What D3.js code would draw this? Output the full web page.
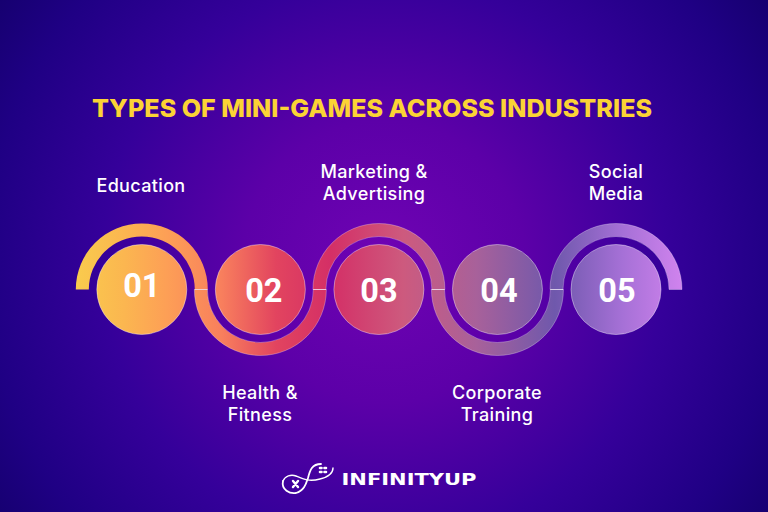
<!DOCTYPE html>
<html><head><meta charset="utf-8">
<script src="https://d3js.org/d3.v7.min.js"></script>
<style>html,body{margin:0;padding:0;background:#1a0078}svg{display:block}</style>
</head><body><svg id="c" width="768" height="512"></svg>
<script>
const chartTitle = "TYPES OF MINI-GAMES ACROSS INDUSTRIES";
const stepNumbers = ["01","02","03","04","05"];
const stepLabels = [["Education"],["Health &","Fitness"],["Marketing &","Advertising"],["Corporate","Training"],["Social","Media"]];
const brandName = "INFINITYUP";

const svg = d3.select("#c");
const defs = svg.append("defs");

const bg = defs.append("radialGradient").attr("id","bg").attr("gradientUnits","userSpaceOnUse")
  .attr("cx",384).attr("cy",262).attr("r",470);
[[0,"#7003b4"],[0.3,"#5c00a8"],[0.6,"#35009a"],[0.85,"#1f0084"],[1,"#15006f"]].forEach(s=>bg.append("stop").attr("offset",s[0]).attr("stop-color",s[1]));
svg.append("rect").attr("width",768).attr("height",512).attr("fill","url(#bg)");

const x = d3.scaleLinear().domain([0,4]).range([141.8,616]);
const cy = 289.5, R = 45, rIn = 53, rOut = 66;

const grad = defs.append("linearGradient").attr("id","rib").attr("gradientUnits","userSpaceOnUse")
  .attr("x1",76).attr("x2",682).attr("y1",0).attr("y2",0);
[[0,"#f9cb4d"],[0.08,"#fbb650"],[0.15,"#fd9f56"],[0.24,"#f87f5d"],[0.33,"#e2445f"],[0.42,"#d42f66"],[0.54,"#cd5a7e"],[0.66,"#a8619a"],[0.79,"#6f58ac"],[0.9,"#a570d6"],[1,"#d083ee"]]
  .forEach(s=>grad.append("stop").attr("offset",s[0]).attr("stop-color",s[1]));

// half-annulus in absolute coordinates so the shared gradient runs across the whole ribbon
function halfRing(cx, top){
  const p = d3.path();
  p.moveTo(cx-rOut,cy);
  p.arc(cx,cy,rOut,Math.PI,0,!top);
  p.lineTo(cx+rIn,cy);
  p.arc(cx,cy,rIn,0,Math.PI,top);
  p.closePath();
  return p.toString();
}
const g = svg.append("g");
stepNumbers.forEach((n,i)=>{
  g.append("path").attr("d",halfRing(x(i),i%2===0))
    .attr("fill","url(#rib)").attr("stroke",i===0?"none":"#ffffff").attr("stroke-opacity",0.4).attr("stroke-width",0.7);
});
d3.range(4).forEach(i=>{
  const jx = (x(i)+x(i+1))/2;
  g.append("line").attr("x1",jx-6.5).attr("x2",jx+6.5).attr("y1",cy).attr("y2",cy)
    .attr("stroke","#fff").attr("stroke-opacity",0.7).attr("stroke-width",0.8);
});

g.selectAll("circle.n").data(stepNumbers).join("circle").attr("class","n")
  .attr("cx",(d,i)=>x(i)).attr("cy",cy).attr("r",R)
  .attr("fill","url(#rib)").attr("stroke","#fff").attr("stroke-opacity",0.5).attr("stroke-width",0.8);

const numDx = [0,3.5,0,1.5,1];
g.selectAll("text.n").data(stepNumbers).join("text").attr("class","n")
  .attr("x",(d,i)=>x(i)+numDx[i]).attr("y",(d,i)=>i===0?297:302)
  .attr("text-anchor","middle").attr("font-family","Roboto").attr("font-weight",700)
  .attr("font-size",32.5).attr("fill","#fff").text(d=>d);

svg.append("text").attr("x",92).attr("y",117).attr("font-family","Inter").attr("font-weight",800)
  .attr("font-size",24).attr("fill","#fbd335").attr("textLength",560).attr("lengthAdjust","spacingAndGlyphs").text(chartTitle);

const labelY = [[192],[399,421],[178,200],[399,421],[178,200]];
const labelX = [141,260,374,497,616];
stepLabels.forEach((lines,i)=>lines.forEach((t,j)=>{
  svg.append("text").attr("x",labelX[i]).attr("y",labelY[i][j]).attr("text-anchor","middle")
    .attr("font-family","Inter").attr("font-weight",500).attr("font-size",18).attr("letter-spacing",0.35).attr("fill","#fff").text(t);
}));

// logo
const logo = svg.append("g").attr("fill","none").attr("stroke","#fff").attr("stroke-linecap","round");
logo.append("path").attr("stroke-width",1.4)
  .attr("d","M283 481C285 476 291 474 296 476C303 479 309 482 320 479C328 477 333 474 333 468");
logo.append("path").attr("stroke-width",1.8)
  .attr("d","M283 481C281 490 290 494 296 493C304 491 306 484 308 478C310 470 312 464 321 464");
logo.append("path").attr("stroke-width",2.4).attr("d","M293 481l5 6M298 481l-5 6");
logo.append("path").attr("stroke-width",2.6).attr("d","M320 468h1.5M324.5 468h1.5M320 472h1.5M324.5 472h1.5");
svg.append("text").attr("x",341.5).attr("y",484.5).attr("font-family","DejaVu Sans").attr("font-weight",700)
  .attr("font-size",15).attr("fill","#fff").attr("textLength",135).attr("lengthAdjust","spacingAndGlyphs").text(brandName);
</script></body></html>
